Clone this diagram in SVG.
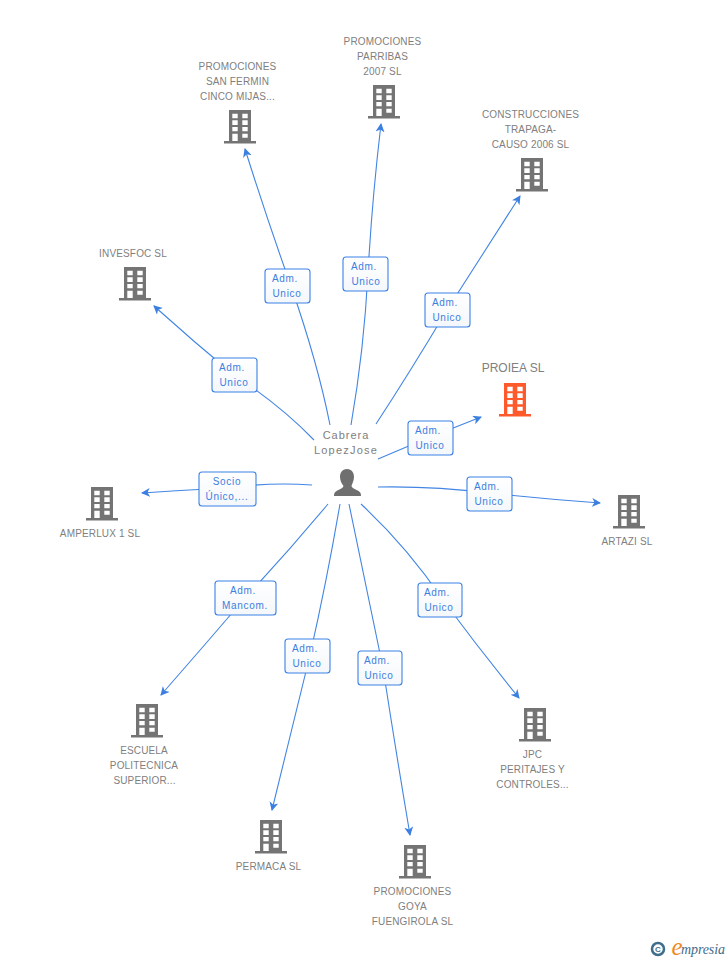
<svg xmlns="http://www.w3.org/2000/svg" width="728" height="960" viewBox="0 0 728 960">
<style>
text{font-family:"Liberation Sans",Arial,sans-serif}
.n{font-size:10px;fill:#808080;text-anchor:middle;letter-spacing:.15px}
.l{font-size:10px;fill:#3b7fe0;text-anchor:middle;letter-spacing:.7px}
.c{fill:none;stroke:#4285e4;stroke-width:1.1;marker-end:url(#a)}
.b{fill:url(#g);stroke:#3b82e6;stroke-width:1.1}
.h{fill:#747474}
</style>
<defs>
<marker id="a" markerUnits="userSpaceOnUse" markerWidth="10" markerHeight="10" refX="8" refY="4.500" orient="auto"><path d="M0 0L9 4.500L0 9L2.500 4.500Z" fill="#3b7fe0"/></marker>
<linearGradient id="g" x1="0" y1="0" x2="0" y2="1"><stop offset="0" stop-color="#fff"/><stop offset="1" stop-color="#f4f7fb"/></linearGradient>
<path id="bld" fill-rule="evenodd" d="M-11 0H11V31H16V33.500H-16V31H-11ZM-7.700 3.700V8.300H-2.300V3.700ZM2.300 3.700V8.300H7.700V3.700ZM-7.700 10.300V15H-2.300V10.300ZM2.300 10.300V15H7.700V10.300ZM-7.700 17V21.300H-2.300V17ZM2.300 17V21.300H7.700V17ZM-7.700 23.700V31H-2.300V23.700ZM2.300 23.700V27.700H7.700V23.700Z"/>
</defs>
<g id="connectors">
<path class="c" d="M330 425Q318 364 291 286Q268 222 245 149"/>
<path class="c" d="M351 425Q364 350 368 273Q372 200 381 124"/>
<path class="c" d="M376 424Q410 372 447 310Q484 252 520 196"/>
<path class="c" d="M314 440Q280 405 234 375Q194 342 154 306"/>
<path class="c" d="M378 459Q404 448 430 437Q456 427 481 417"/>
<path class="c" d="M378 487Q434 486 489 493Q544 499 600 503"/>
<path class="c" d="M312 485Q270 482 227 488Q185 490 142 493"/>
<path class="c" d="M328 504Q288 552 245 598Q203 647 161 695"/>
<path class="c" d="M340 504Q327 580 310 655Q291 733 272 810"/>
<path class="c" d="M349 504Q366 586 383 668Q396 752 410 835"/>
<path class="c" d="M361 504Q408 548 443 600Q480 650 519 698"/>
</g>
<g id="labels">
<g><rect class="b" x="265" y="269" width="45" height="34" rx="3"/><text class="l" x="285" y="282">Adm.</text><text class="l" x="287" y="297">Unico</text></g>
<g><rect class="b" x="343" y="257" width="45" height="34" rx="3"/><text class="l" x="364" y="270">Adm.</text><text class="l" x="366" y="285">Unico</text></g>
<g><rect class="b" x="425" y="293" width="45" height="34" rx="3"/><text class="l" x="445" y="306">Adm.</text><text class="l" x="447" y="321">Unico</text></g>
<g><rect class="b" x="212" y="358" width="45" height="34" rx="3"/><text class="l" x="232" y="371">Adm.</text><text class="l" x="234" y="386">Unico</text></g>
<g><rect class="b" x="408" y="421" width="45" height="34" rx="3"/><text class="l" x="428" y="434">Adm.</text><text class="l" x="430" y="449">Unico</text></g>
<g><rect class="b" x="467" y="477" width="45" height="34" rx="3"/><text class="l" x="487" y="490">Adm.</text><text class="l" x="489" y="505">Unico</text></g>
<g><rect class="b" x="199" y="472" width="57" height="34" rx="3"/><text class="l" x="227" y="485">Socio</text><text class="l" x="227" y="500">Único,...</text></g>
<g><rect class="b" x="215" y="581" width="61" height="34" rx="3"/><text class="l" x="243" y="594">Adm.</text><text class="l" x="245" y="609">Mancom.</text></g>
<g><rect class="b" x="285" y="639" width="45" height="34" rx="3"/><text class="l" x="305" y="652">Adm.</text><text class="l" x="307" y="667">Unico</text></g>
<g><rect class="b" x="358" y="651" width="44" height="34" rx="3"/><text class="l" x="377" y="664">Adm.</text><text class="l" x="379" y="679">Unico</text></g>
<g><rect class="b" x="418" y="583" width="44" height="34" rx="3"/><text class="l" x="437" y="596">Adm.</text><text class="l" x="439" y="611">Unico</text></g>
</g>
<g id="person">
<text x="346" y="439" text-anchor="middle" style="font-size:11px;fill:#808080;letter-spacing:1px">Cabrera</text>
<text x="346" y="454" text-anchor="middle" style="font-size:11px;fill:#808080;letter-spacing:1.200px">LopezJose</text>
<path fill="#6f6f6f" d="M347 469C352 469 354 473 354 477C354 481 352 484 351.500 486C352 489 359 490 360.500 493C361 494 361 496 361 496H334C334 496 334 494 334.500 493C336 490 343 489 343.500 486C342 484 340 481 340 477C340 473 342 469 347 469Z"/>
</g>
<g id="n-sanfermin" class="h"><text class="n" x="237.500" y="70">PROMOCIONES</text><text class="n" x="237.500" y="85">SAN FERMIN</text><text class="n" x="237.500" y="100">CINCO MIJAS...</text><use href="#bld" x="240" y="110"/></g>
<g id="n-parribas" class="h"><text class="n" x="382.500" y="45">PROMOCIONES</text><text class="n" x="382.500" y="60">PARRIBAS</text><text class="n" x="382.500" y="75">2007 SL</text><use href="#bld" x="384" y="85"/></g>
<g id="n-construcciones" class="h"><text class="n" x="530.500" y="118">CONSTRUCCIONES</text><text class="n" x="530.500" y="133">TRAPAGA-</text><text class="n" x="530.500" y="148">CAUSO 2006 SL</text><use href="#bld" x="532" y="158"/></g>
<g id="n-invesfoc" class="h"><text class="n" x="133" y="257">INVESFOC SL</text><use href="#bld" x="135" y="267"/></g>
<g id="n-proiea" fill="#ff5a2b"><text x="513" y="372" text-anchor="middle" style="font-size:12px;fill:#808080">PROIEA SL</text><use href="#bld" x="515" y="383"/></g>
<g id="n-amperlux" class="h"><use href="#bld" x="102" y="487"/><text class="n" x="100" y="537">AMPERLUX 1 SL</text></g>
<g id="n-artazi" class="h"><use href="#bld" x="629" y="495"/><text class="n" x="627" y="545">ARTAZI SL</text></g>
<g id="n-escuela" class="h"><use href="#bld" x="147" y="704"/><text class="n" x="144" y="754">ESCUELA</text><text class="n" x="144" y="769">POLITECNICA</text><text class="n" x="144.500" y="784">SUPERIOR...</text></g>
<g id="n-permaca" class="h"><use href="#bld" x="271" y="820"/><text class="n" x="268.500" y="870">PERMACA SL</text></g>
<g id="n-goya" class="h"><use href="#bld" x="415" y="845"/><text class="n" x="412.500" y="895">PROMOCIONES</text><text class="n" x="412.500" y="910">GOYA</text><text class="n" x="412.500" y="925">FUENGIROLA SL</text></g>
<g id="n-jpc" class="h"><use href="#bld" x="535" y="708"/><text class="n" x="532.500" y="758">JPC</text><text class="n" x="532.500" y="773">PERITAJES Y</text><text class="n" x="532.500" y="788">CONTROLES...</text></g>
<g id="logo">
<circle cx="658" cy="949" r="6" fill="none" stroke="#3f6d8c" stroke-width="2.500"/>
<text x="658" y="952" text-anchor="middle" style="font-size:8px;font-weight:bold;fill:#3f6d8c">C</text>
<text x="677" y="955" text-anchor="middle" style="font-family:'Liberation Serif',serif;font-size:25px;font-style:italic;fill:#f08a24">e</text>
<text x="681" y="954" textLength="44" style="font-family:'Liberation Serif',serif;font-size:14px;font-style:italic;fill:#3f6d8c">mpresia</text>
</g>
</svg>
